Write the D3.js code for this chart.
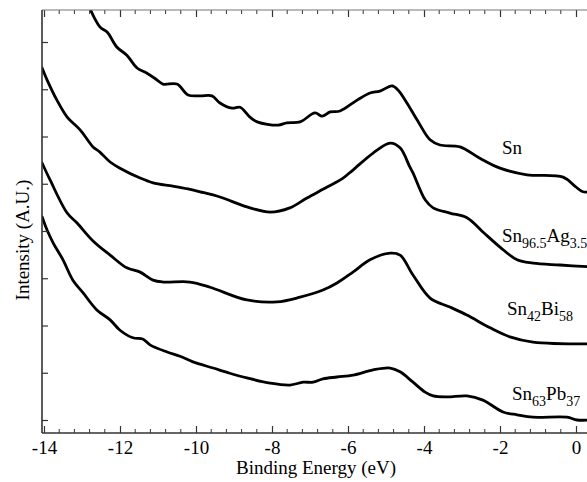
<!DOCTYPE html>
<html>
<head>
<meta charset="utf-8">
<script src="https://cdn.jsdelivr.net/npm/d3@7"></script>
<style>
  body { margin: 0; background: #fff; }
  svg { display: block; }
  svg text { font-family: 'Liberation Serif', 'Times New Roman', Times, serif; }
</style>
</head>
<body>
<div id="chart"></div>
<script>
/* Daten: Bindungsenergie (eV) und Intensität (willkürliche Einheiten) */
var snX = [-12.89,-12.53,-12.34,-12.08,-11.82,-11.55,-11.29,-11.03,-10.87,-10.50,-10.21,-9.89,-9.58,-9.37,-9.05,-8.84,-8.58,-8.39,-7.84,-7.61,-7.26,-6.87,-6.68,-6.47,-6.21,-5.76,-5.42,-5.16,-4.84,-4.68,-4.45,-4.18,-3.84,-3.58,-3.05,-2.53,-2.00,-1.29,-0.34,-0.03,0.18,0.37];
var snY = [8.89,8.32,8.21,7.89,7.72,7.45,7.34,7.20,7.11,7.11,6.88,6.86,6.86,6.71,6.60,6.62,6.41,6.31,6.24,6.29,6.31,6.50,6.43,6.52,6.54,6.77,6.92,6.96,7.07,6.98,6.71,6.35,5.93,5.82,5.78,5.54,5.33,5.19,5.14,4.95,4.83,4.83];

var agX = [-14.05,-13.92,-13.66,-13.39,-13.05,-12.71,-12.53,-12.26,-12.00,-11.47,-11.13,-10.61,-10.21,-9.89,-9.37,-8.66,-8.05,-7.53,-7.08,-6.55,-6.13,-5.87,-5.34,-4.89,-4.63,-4.37,-4.29,-3.97,-3.76,-3.32,-2.87,-2.45,-2.00,-1.55,-1.13,-0.42,0.37];
var agY = [7.45,7.20,6.77,6.41,6.14,5.78,5.67,5.46,5.33,5.12,5.02,4.95,4.89,4.83,4.72,4.51,4.40,4.49,4.70,4.93,5.12,5.29,5.65,5.86,5.76,5.35,5.23,4.66,4.49,4.38,4.28,3.98,3.66,3.39,3.32,3.28,3.24];

var biX = [-14.05,-13.84,-13.39,-13.13,-12.71,-12.26,-11.82,-11.47,-11.13,-10.87,-10.16,-9.63,-8.66,-7.87,-7.26,-6.66,-6.29,-5.87,-5.42,-4.89,-4.63,-4.29,-3.84,-3.32,-2.87,-2.26,-1.74,-1.13,0.37];
var biY = [5.44,5.08,4.38,4.17,3.79,3.49,3.22,3.13,2.96,2.92,2.92,2.81,2.54,2.50,2.60,2.75,2.90,3.13,3.39,3.53,3.49,3.07,2.58,2.39,2.22,1.95,1.76,1.65,1.61];

var pbX = [-14.05,-13.92,-13.76,-13.50,-13.24,-12.97,-12.61,-12.26,-12.00,-11.66,-11.39,-11.21,-10.76,-10.42,-10.08,-9.55,-9.11,-8.66,-8.05,-7.53,-7.18,-6.92,-6.66,-6.29,-5.87,-5.34,-4.89,-4.63,-4.29,-3.97,-3.76,-3.39,-2.87,-2.45,-1.92,-1.55,-1.13,-0.24,0.03,0.37];
var pbY = [4.30,4.02,3.75,3.39,2.96,2.69,2.33,2.12,1.90,1.74,1.71,1.59,1.44,1.35,1.23,1.10,0.99,0.89,0.78,0.74,0.80,0.80,0.87,0.91,0.95,1.06,1.10,1.02,0.80,0.59,0.51,0.49,0.51,0.42,0.17,0.11,0.06,0.06,0.00,0.00];

/* Beschriftungen: Grundtext und Indizes */
var seriesNames = [["Sn"], ["Sn","96.5","Ag","3.5"], ["Sn","42","Bi","58"], ["Sn","63","Pb","37"]];
var xTicks = [-14,-12,-10,-8,-6,-4,-2,0];
var yTicks = [0,1,2,3,4,5,6,7,8];

/* Layout */
var W = 587, H = 482;
var pLeft = 42, pTop = 10, pBottom = 433, pRight = 587;
var serif = "'Liberation Serif', 'Times New Roman', Times, serif";

var x = d3.scaleLinear().domain([-14, 0]).range([44, 576]);
var y = d3.scaleLinear().domain([0, 1]).range([420, 372.75]);

var svg = d3.select("#chart").append("svg").attr("width", W).attr("height", H);

svg.append("defs").append("clipPath").attr("id", "plotclip")
  .append("rect").attr("x", pLeft).attr("y", pTop).attr("width", pRight - pLeft).attr("height", pBottom - pTop);

/* Kurven */
var line = d3.line().x(function(d) { return x(d[0]); }).y(function(d) { return y(d[1]); }).curve(d3.curveCatmullRom.alpha(0.5));
var series = [[snX, snY], [agX, agY], [biX, biY], [pbX, pbY]];
var g = svg.append("g").attr("clip-path", "url(#plotclip)");
series.forEach(function(s) {
  g.append("path").datum(d3.zip(s[0], s[1]))
    .attr("d", line).attr("fill", "none").attr("stroke", "#000")
    .attr("stroke-width", 2.8).attr("stroke-linejoin", "round").attr("stroke-linecap", "round");
});

/* Achsen */
var minor = d3.range(-14, 0.5, 0.4).filter(function(v) { return Math.abs(v / 2 - Math.round(v / 2)) > 0.01; });
var axisColor = "#333";

var bottomAxis = d3.axisBottom(x).tickValues(xTicks).tickSize(-7).tickPadding(8).tickFormat(d3.format("d"));
var ga = svg.append("g").attr("transform", "translate(0," + pBottom + ")").call(bottomAxis);
ga.attr("font-family", serif).attr("font-size", 19);
ga.select(".domain").remove();
ga.selectAll("line").attr("stroke", axisColor).attr("stroke-width", 1.2);
ga.selectAll("text").style("font-family", serif).attr("font-size", "19px").attr("fill", "#000")
  .text(function(d) { return d < 0 ? "-" + Math.abs(d) : d; });
ga.selectAll(".minor").data(minor).enter().append("line")
  .attr("x1", function(d) { return x(d); }).attr("x2", function(d) { return x(d); })
  .attr("y1", 0).attr("y2", -4).attr("stroke", axisColor).attr("stroke-width", 1);

var topAxis = d3.axisTop(x).tickValues(xTicks).tickSize(-7).tickFormat("");
var gt = svg.append("g").attr("transform", "translate(0," + pTop + ")").call(topAxis);
gt.select(".domain").remove();
gt.selectAll("line").attr("stroke", axisColor).attr("stroke-width", 1.2);
gt.selectAll(".minor").data(minor).enter().append("line")
  .attr("x1", function(d) { return x(d); }).attr("x2", function(d) { return x(d); })
  .attr("y1", 0).attr("y2", 4).attr("stroke", axisColor).attr("stroke-width", 1);

var leftAxis = d3.axisLeft(y).tickValues(yTicks).tickSize(-6).tickFormat("");
var gl = svg.append("g").attr("transform", "translate(" + pLeft + ",0)").call(leftAxis);
gl.select(".domain").remove();
gl.selectAll("line").attr("stroke", axisColor).attr("stroke-width", 1.2);

/* Rahmenlinien */
svg.append("line").attr("x1", pLeft).attr("x2", pRight).attr("y1", pBottom).attr("y2", pBottom).attr("stroke", axisColor).attr("stroke-width", 1.6);
svg.append("line").attr("x1", pLeft).attr("x2", pRight).attr("y1", pTop).attr("y2", pTop).attr("stroke", "#777").attr("stroke-width", 1.2);
svg.append("line").attr("x1", pLeft).attr("x2", pLeft).attr("y1", pTop).attr("y2", pBottom).attr("stroke", axisColor).attr("stroke-width", 1.6);

/* Achsentitel */
svg.append("text").attr("x", 316).attr("y", 474).attr("text-anchor", "middle").style("font-family", serif)
  .attr("font-size", "19px").text("Binding Energy (eV)");
svg.append("text").attr("transform", "translate(29,240) rotate(-90)").attr("text-anchor", "middle").style("font-family", serif)
  .attr("font-size", "19px").text("Intensity (A.U.)");

/* Kurvenbeschriftungen */
var labelPos = [[502, 154], [502, 242], [507, 315], [512, 400]];
seriesNames.forEach(function(parts, i) {
  var t = svg.append("text").attr("x", labelPos[i][0]).attr("y", labelPos[i][1]).style("font-family", serif).attr("font-size", "19px");
  parts.forEach(function(p, j) {
    var ts = t.append("tspan").text(p);
    if (j % 2 == 1) ts.attr("font-size", "14px").attr("dy", 6);
    else if (j > 0) ts.attr("dy", -6);
  });
});
</script>
</body>
</html>
